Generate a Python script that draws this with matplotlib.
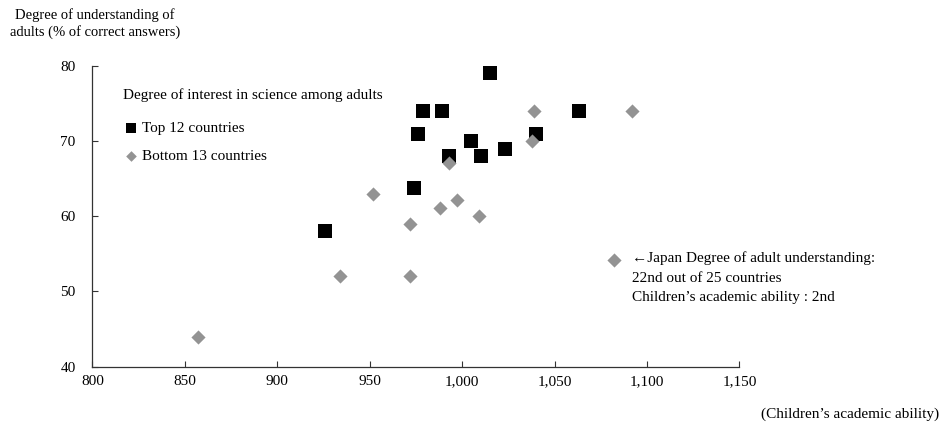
import matplotlib
matplotlib.use("Agg")
import matplotlib.pyplot as plt
from matplotlib.ticker import FuncFormatter

plt.rcParams['font.family'] = ['Liberation Serif', 'DejaVu Serif']

# children's academic ability (x) vs adult understanding, % correct (y)
top_x = [926, 1015, 979, 989, 1063, 976, 1040, 1005, 1023, 993, 1010, 974]
top_y = [58, 79, 74, 74, 74, 71, 71, 70, 69, 68, 68, 63.7]

bottom_x = [857, 934, 952, 1039, 1092, 1038, 993, 997, 988, 1009, 972, 972, 1082]
bottom_y = [44, 52, 63, 74, 74, 70, 67.1, 62.1, 61.1, 60, 59, 52, 54.2]

x_ticks = [800, 850, 900, 950, 1000, 1050, 1100, 1150]
y_ticks = [40, 50, 60, 70, 80]

japan_note = ["\u2190Japan Degree of adult understanding:",
              "22nd out of 25 countries",
              "Children\u2019s academic ability : 2nd"]

fig = plt.figure(figsize=(9.42, 4.28), dpi=100)
ax = fig.add_axes([0.098, 0.1435, 0.687, 0.7025])

sq = ax.scatter(top_x, top_y, marker='s', s=105, color='black', linewidths=0,
                zorder=3, label='Top 12 countries')
dm = ax.scatter(bottom_x, bottom_y, marker='D', s=52, color='#939393', linewidths=0,
                zorder=4, label='Bottom 13 countries')

ax.set_xlim(800, 1150)
ax.set_ylim(40, 80)
ax.set_xticks(x_ticks)
ax.set_yticks(y_ticks)
ax.xaxis.set_major_formatter(FuncFormatter(lambda v, p: f"{int(v):,}"))
ax.tick_params(direction='in', length=4, width=0.8, colors='#333333',
               labelsize=11, labelcolor='black')
ax.tick_params(axis='x', pad=6)
ax.tick_params(axis='y', pad=12)

for side in ['top', 'right']:
    ax.spines[side].set_visible(False)
for side in ['left', 'bottom']:
    ax.spines[side].set_color('#333333')
    ax.spines[side].set_linewidth(0.9)

leg = ax.legend(handles=[sq, dm], title='Degree of interest in science among adults',
                loc='upper left', bbox_to_anchor=(123 / 942, 1 - 88 / 428),
                bbox_transform=fig.transFigure, frameon=False, fontsize=11,
                title_fontsize=11, markerscale=0.75, handletextpad=0.2,
                handlelength=1.05, labelspacing=0.92, borderpad=0, borderaxespad=0)
leg._legend_box.align = 'left'
# a bit more room between the title and the two entries
leg._legend_box.sep = 0.92 * 11 + 4

# Japan note
for i, line in enumerate(japan_note):
    fig.text(632 / 942, 1 - (258 + i * 20) / 428, line, fontsize=11,
             va='center', ha='left')

fig.text(95 / 942, 1 - 15 / 428, "Degree of understanding of", fontsize=10.5,
         va='center', ha='center')
fig.text(95 / 942, 1 - 32 / 428, "adults (% of correct answers)", fontsize=10.5,
         va='center', ha='center')
fig.text(939 / 942, 1 - 414 / 428, "(Children\u2019s academic ability)", fontsize=11,
         va='center', ha='right')

fig.savefig("out.png", dpi=100)
